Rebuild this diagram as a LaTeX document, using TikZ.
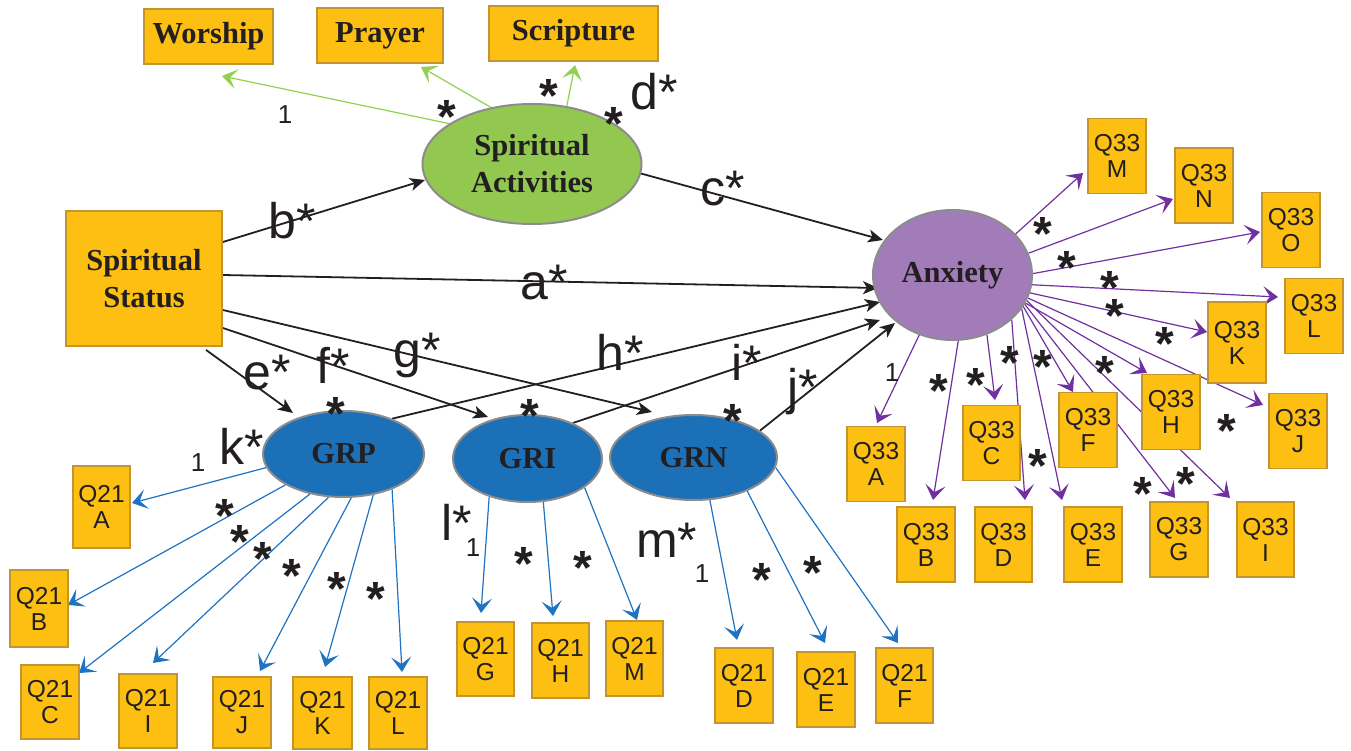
\documentclass[tikz,border=0pt]{standalone}
\usepackage{fontspec}
\setmainfont{Liberation Serif}
\setsansfont{Liberation Sans}
\usetikzlibrary{shapes.geometric,arrows.meta,calc}
\definecolor{boxfill}{RGB}{252,191,18}
\definecolor{boxline}{RGB}{196,148,48}
\definecolor{sagreen}{RGB}{146,200,80}
\definecolor{anxpurple}{RGB}{162,124,184}
\definecolor{grblue}{RGB}{28,112,184}
\definecolor{ellline}{RGB}{140,140,140}
\definecolor{purp}{RGB}{112,48,160}
\definecolor{bluel}{RGB}{30,115,195}
\definecolor{greenl}{RGB}{146,208,80}
\definecolor{ink}{RGB}{35,31,32}
\pgfdeclarelayer{bg}
\pgfsetlayers{bg,main}
\newcommand{\stx}{\raisebox{-0.565em}[0.15em][0.15em]{*}}
\tikzset{
  qbox/.style={draw=boxline, fill=boxfill, line width=1.8pt, inner sep=0pt,
    minimum width=58pt, minimum height=75pt, align=center, text=ink,
    font=\sffamily\fontsize{24.5}{26}\selectfont},
  hbox/.style={draw=boxline, fill=boxfill, line width=1.8pt, inner sep=0pt,
    minimum height=55pt, align=center, text=ink,
    font=\bfseries\fontsize{30.5}{37}\selectfont},
  latent/.style={ellipse, draw=ellline, line width=2pt, inner sep=0pt, align=center,
    text=ink, font=\bfseries\fontsize{30.5}{37}\selectfont},
  lab/.style={font=\sffamily\fontsize{50}{50}\selectfont, inner sep=0pt, anchor=base west, text=ink},
  st/.style={font=\sffamily\bfseries\fontsize{48}{48}\selectfont, inner sep=0pt, text=ink},
  one/.style={font=\sffamily\fontsize{26}{26}\selectfont, inner sep=0pt, text=ink},
  karrow/.style={draw=ink, line width=1.8pt, -{Stealth[length=15pt,width=13pt,inset=4pt]}},
  parrow/.style={draw=purp, line width=1.2pt, -{Stealth[length=15pt,width=20pt,inset=7pt]}},
  barrow/.style={draw=bluel, line width=1.2pt, -{Stealth[length=15pt,width=20pt,inset=7pt]}},
  garrow/.style={draw=greenl, line width=1.2pt, -{Stealth[length=15pt,width=20pt,inset=7pt]}}
}
\begin{document}
\begin{tikzpicture}[x=1pt,y=-1pt]
\useasboundingbox (0,0) rectangle (1351,751);
% top indicators
\node[hbox, minimum width=129pt] (wor) at (208.5,36.5) {Worship};
\node[hbox, minimum width=126pt] (pra) at (380,35.5) {Prayer};
\node[hbox, minimum width=169pt] (scr) at (573.5,33.5) {Scripture};
% main constructs
\node[hbox, minimum width=156pt, minimum height=135pt] (ss) at (144,278.5) {Spiritual\\Status};
\node[latent, fill=sagreen, minimum width=219pt, minimum height=120pt] (sa) at (532,164) {Spiritual\\Activities};
\node[latent, fill=anxpurple, minimum width=159pt, minimum height=130pt] (anx) at (952.5,275) {Anxiety};
\node[latent, fill=grblue, minimum width=161pt, minimum height=86pt] (grp) at (343.5,454) {GRP};
\node[latent, fill=grblue, minimum width=149pt, minimum height=87pt] (gri) at (527.5,458.5) {GRI};
\node[latent, fill=grblue, minimum width=167pt, minimum height=85pt] (grn) at (693.5,457.5) {GRN};
% Q21 boxes
\node[qbox, minimum width=57pt, minimum height=82pt] (q21a) at (101.5,507) {Q21\\A};
\node[qbox, minimum height=77pt] (q21b) at (39,608.5) {Q21\\B};
\node[qbox, minimum height=74pt] (q21c) at (50,702) {Q21\\C};
\node[qbox, minimum height=74pt] (q21i) at (148,711) {Q21\\I};
\node[qbox, minimum height=71pt] (q21j) at (242,712.5) {Q21\\J};
\node[qbox, minimum width=59pt, minimum height=72pt] (q21k) at (322.5,713) {Q21\\K};
\node[qbox, minimum height=72pt] (q21l) at (398,713) {Q21\\L};
\node[qbox, minimum width=57pt, minimum height=74pt] (q21g) at (485.5,659) {Q21\\G};
\node[qbox, minimum width=57pt] (q21h) at (560.5,660.5) {Q21\\H};
\node[qbox, minimum width=57pt] (q21m) at (634.5,658.5) {Q21\\M};
\node[qbox] (q21d) at (744,685.5) {Q21\\D};
\node[qbox] (q21e) at (826,689.5) {Q21\\E};
\node[qbox, minimum width=57pt] (q21f) at (904.5,685.5) {Q21\\F};
% Q33 boxes
\node[qbox] (q33m) at (1117,156) {Q33\\M};
\node[qbox] (q33n) at (1204,185.5) {Q33\\N};
\node[qbox] (q33o) at (1291,230) {Q33\\O};
\node[qbox] (q33l) at (1314,316) {Q33\\L};
\node[qbox, minimum height=81pt] (q33k) at (1237,342.5) {Q33\\K};
\node[qbox] (q33a) at (876,464) {Q33\\A};
\node[qbox] (q33b) at (926,544.5) {Q33\\B};
\node[qbox, minimum width=57pt] (q33c) at (991.5,443) {Q33\\C};
\node[qbox, minimum width=57pt] (q33d) at (1003.5,544.5) {Q33\\D};
\node[qbox] (q33e) at (1093,544.5) {Q33\\E};
\node[qbox] (q33f) at (1088,430) {Q33\\F};
\node[qbox] (q33g) at (1179,539.5) {Q33\\G};
\node[qbox] (q33h) at (1171,412) {Q33\\H};
\node[qbox, minimum width=57pt] (q33i) at (1265.5,539.5) {Q33\\I};
\node[qbox] (q33j) at (1298,431) {Q33\\J};

\begin{pgfonlayer}{bg}
% green
\draw[garrow] (sa.154) -- ($(wor)+(13.5,39.5)$);
\draw[garrow] (sa.126) -- ($(pra)+(41,31.5)$);
\draw[garrow] (sa.59) -- ($(scr)+(1.5,31.5)$);
% black structural paths
\draw[karrow] ($(ss.east)+(0,-36.5)$) -- ($(sa)+(-107,16)$);
\draw[karrow] ($(ss.east)+(0,-3.5)$) -- ($(anx)+(-74.5,13)$);
\draw[karrow] ($(ss.east)+(0,31.5)$) -- ($(grn)+(-41.5,-45.5)$);
\draw[karrow] ($(ss.east)+(0,49.5)$) -- ($(gri)+(-39.5,-41.5)$);
\draw[karrow] ($(ss.south)+(62,3)$) -- ($(grp)+(-50.5,-41)$);
\draw[karrow] (sa.-5) -- ($(anx)+(-69.5,-35)$);
\draw[karrow] (grp.36) -- ($(anx)+(-72.5,27)$);
\draw[karrow] (gri.38) -- ($(anx)+(-72.5,45)$);
\draw[karrow] (grn.22) -- ($(anx)+(-57.5,48)$);
% blue GRP
\draw[barrow] (grp.-170.6) -- ($(q21a)+(30.5,-4)$);
\draw[barrow] (grp.-152) -- ($(q21b)+(29,-3.5)$);
\draw[barrow] (grp.-130.7) -- ($(q21c)+(29,-29)$);
\draw[barrow] (grp.-109) -- ($(q21i)+(5,-48)$);
\draw[barrow] (grp.-80) -- ($(q21j)+(18,-41.5)$);
\draw[barrow] (grp.-54.5) -- ($(q21k)+(2.5,-46)$);
\draw[barrow] (grp.-36) -- ($(q21l)+(4,-41)$);
% blue GRI
\draw[barrow] (gri.-135) -- ($(q21g)+(-4.5,-46)$);
\draw[barrow] (gri.-70) -- ($(q21h)+(-7.5,-44.5)$);
\draw[barrow] (gri.-27) -- ($(q21m)+(2.5,-38.5)$);
% blue GRN
\draw[barrow] (grn.-69) -- ($(q21d)+(-7,-45.5)$);
\draw[barrow] (grn.-32) -- ($(q21e)+(-1,-46.5)$);
\draw[barrow] (grn.-7.3) -- ($(q21f)+(-6.5,-42.5)$);
% purple
\draw[parrow] (anx.33.7) -- ($(q33m)+(-34,17)$);
\draw[parrow] (anx.16.1) -- ($(q33n)+(-31,13.5)$);
\draw[parrow] (anx.1) -- ($(q33o)+(-31,2)$);
\draw[parrow] (anx.-7) -- ($(q33l)+(-36,-19)$);
\draw[parrow] (anx.-13) -- ($(q33k)+(-30,-10.5)$);
\draw[parrow] (anx.-17.5) -- ($(q33j)+(-35,-26)$);
\draw[parrow] (anx.-19.5) -- ($(q33i)+(-35.5,-41.5)$);
\draw[parrow] (anx.-21) -- ($(q33h)+(-24,-39)$);
\draw[parrow] (anx.-22.5) -- ($(q33g)+(-4,-41.5)$);
\draw[parrow] (anx.-24.4) -- ($(q33f)+(-15,-38)$);
\draw[parrow] (anx.-26.6) -- ($(q33e)+(-31,-44.5)$);
\draw[parrow] (anx.-37) -- ($(q33d)+(21.5,-44.5)$);
\draw[parrow] (anx.-60.5) -- ($(q33c)+(3.5,-43)$);
\draw[parrow] (anx.-85) -- ($(q33b)+(7,-44.5)$);
\draw[parrow] (anx.-119) -- ($(q33a)+(1,-41)$);
\end{pgfonlayer}

% path labels
\node[lab] (ld) at (630,110) {d*};
\node[lab] (lb) at (268,239) {b*};
\node[lab] (lc) at (700,206) {c*};
\node[lab] (la) at (520,299) {a*};
\node[lab] (le) at (243,389) {e*};
\node[lab] (lf) at (316,383) {f*};
\node[lab] (lg) at (393,367) {g*};
\node[lab] (lh) at (596,370) {h*};
\node[lab] (li) at (731,380) {i*};
\node[lab] (lj) at (787,404) {j*};
\node[lab] (lk) at (219,464) {k*};
\node[lab] (ll) at (441,540) {l*};
\node[lab] (lm) at (636,557) {m*};
% ones
\node[one] (o1) at (285,115) {1};
\node[one] (o2) at (198,463) {1};
\node[one] (o3) at (473,548) {1};
\node[one] (o4) at (702,574) {1};
\node[one] (o5) at (892,373) {1};
% stars
\node[st] (s1) at (447,106) {\stx};
\node[st] (s2) at (549,85) {\stx};
\node[st] (s3) at (614,113) {\stx};
\node[st] (s4) at (225,505) {\stx};
\node[st] (s5) at (240,531) {\stx};
\node[st] (s6) at (263,548) {\stx};
\node[st] (s7) at (292,565) {\stx};
\node[st] (s8) at (337,578) {\stx};
\node[st] (s9) at (376,588) {\stx};
\node[st] (s10) at (336,403) {\stx};
\node[st] (s11) at (530,405) {\stx};
\node[st] (s12) at (524,553) {\stx};
\node[st] (s13) at (583,557) {\stx};
\node[st] (s14) at (733,410) {\stx};
\node[st] (s15) at (762,569) {\stx};
\node[st] (s16) at (813,562) {\stx};
\node[st] (s17) at (1043,223) {\stx};
\node[st] (s18) at (1067,257) {\stx};
\node[st] (s19) at (1110,277) {\stx};
\node[st] (s20) at (1115,305) {\stx};
\node[st] (s21) at (1165,333) {\stx};
\node[st] (s22) at (939,380) {\stx};
\node[st] (s23) at (976,374) {\stx};
\node[st] (s24) at (1010,352) {\stx};
\node[st] (s25) at (1043,356) {\stx};
\node[st] (s26) at (1105,362) {\stx};
\node[st] (s27) at (1227,420) {\stx};
\node[st] (s28) at (1038,455) {\stx};
\node[st] (s29) at (1143,483) {\stx};
\node[st] (s30) at (1186,473) {\stx};
\end{tikzpicture}
\end{document}
